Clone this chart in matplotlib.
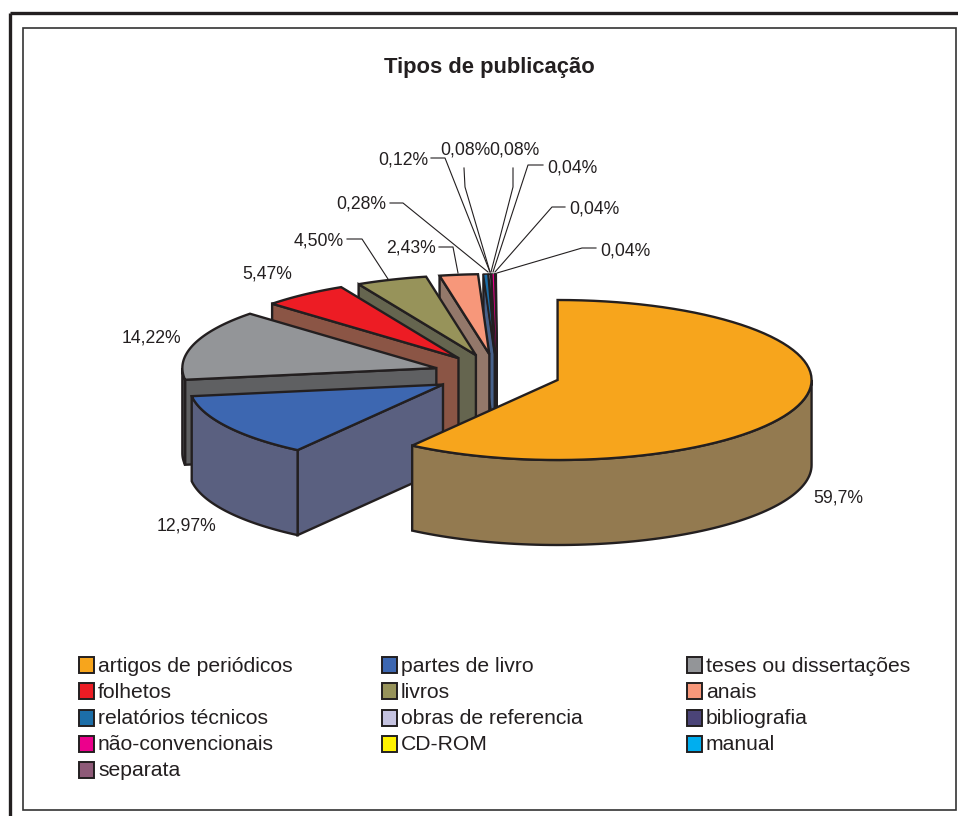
import numpy as np
import matplotlib
matplotlib.use("Agg")
import matplotlib.pyplot as plt
from matplotlib.patches import Polygon, Rectangle

plt.rcParams['font.family'] = ['Liberation Sans', 'DejaVu Sans']

# ---------- данные ----------
categories = ["artigos de periódicos", "partes de livro", "teses ou dissertações",
              "folhetos", "livros", "anais",
              "relatórios técnicos", "obras de referencia", "bibliografia",
              "não-convencionais", "CD-ROM", "manual",
              "separata"]
values = [59.7, 12.97, 14.22, 5.47, 4.50, 2.43, 0.28, 0.12, 0.08, 0.08, 0.04, 0.04, 0.04]
value_labels = ["59,7%", "12,97%", "14,22%", "5,47%", "4,50%", "2,43%", "0,28%",
                "0,12%", "0,08%", "0,08%", "0,04%", "0,04%", "0,04%"]
colors = ["#F7A51C", "#3D67B1", "#939598", "#ED1C24", "#97935A", "#F7977A", "#1C6EA8",
          "#C5C3E0", "#4B4478", "#EC008C", "#FFF200", "#00AEEF", "#8E5A78"]
wall_colors = ["#937A50", "#5A6080", "#5F6062", "#8B5545", "#65654F", "#93786A", "#47618A",
               "#77768A", "#2F2B4A", "#8A0052", "#8F8800", "#006A90", "#5A3A4C"]

# ---------- геометрия ----------
CX, CY = 497, 374
RX, RY = 254, 80
DEPTH = 85
EXPLODE = 0.25
EDGE = "#231F20"
LW = 1.7

# подписи: x, y центра текста и ломаная выноски
label_pos = [(838, 498), (187, 526), (151, 338), (267, 274), (319, 241), (411, 248), (361, 204),
             (403, 160), (465, 150), (514, 150), (572, 168), (594, 209), (625, 251)]
leaders = {
    4: [(347, 239), (362, 239), (388, 279)],
    5: [(439, 247), (453, 247), (458, 273)],
    6: [(390, 203), (403, 203), (488, 272)],
    7: [(431, 158), (445, 158), (490, 272)],
    8: [(464, 168), (465, 187), (490, 272)],
    9: [(513, 168), (513, 187), (491, 272)],
    10: [(543, 165), (528, 165), (493, 272)],
    11: [(565, 207), (552, 207), (495, 272)],
    12: [(596, 248), (582, 248), (497, 273)],
}
legend_cols = [79, 382, 687]
legend_rows = [664.5, 690.5, 717.5, 743.5, 769.5]
# порядок отрисовки: от дальних к ближним, малиновый сектор поверх соседних
draw_order = [12, 11, 10, 8, 7, 9, 6, 5, 4, 3, 2, 1, 0]

fig = plt.figure(figsize=(9.58, 8.16), dpi=100)
ax = fig.add_axes([0, 0, 1, 1])
ax.set_xlim(0, 958)
ax.set_ylim(816, 0)
ax.axis("off")

# рамки
ax.plot([10, 10], [816, 13], color=EDGE, lw=2.4, solid_capstyle="butt")
ax.plot([10, 958], [13, 13], color=EDGE, lw=2.4, solid_capstyle="butt")
ax.add_patch(Rectangle((23, 28), 933, 782, fill=False, ec="#333333", lw=1.2))


def rim(ox, oy, a):
    """Точка на эллипсе; угол a в градусах по часовой от 12 часов"""
    r = np.radians(a)
    return np.column_stack([ox + RX * np.sin(r), oy - RY * np.cos(r)])


def draw_slice(i, a0, a1):
    mid = np.radians((a0 + a1) / 2)
    ox = CX + EXPLODE * RX * np.sin(mid)
    oy = CY - EXPLODE * RY * np.cos(mid)
    apex = np.array([[ox, oy]])
    arc = rim(ox, oy, np.linspace(a0, a1, 80))
    down = np.array([0, DEPTH])

    # боковая стенка у начального радиуса (видна в левой половине)
    if a0 > 180:
        p = np.vstack([rim(ox, oy, np.array([a0])), apex, apex + down, rim(ox, oy, np.array([a0])) + down])
        ax.add_patch(Polygon(p, fc=wall_colors[i], ec=EDGE, lw=LW, joinstyle="miter"))

    # внешняя стенка, только передняя часть эллипса
    f0, f1 = max(a0, 90), min(a1, 270)
    if f1 > f0:
        front = rim(ox, oy, np.linspace(f0, f1, 80))
        p = np.vstack([front, (front + down)[::-1]])
        ax.add_patch(Polygon(p, fc=wall_colors[i], ec=EDGE, lw=LW, joinstyle="miter"))

    # верх сектора; самые узкие секторы тоньше обводка, иначе цвета не видно
    top_lw = LW
    if values[i] < 0.1 and i == 9:
        top_lw = 0
    elif values[i] < 0.5:
        top_lw = 1.1
    ax.add_patch(Polygon(np.vstack([apex, arc]), fc=colors[i], ec=EDGE, lw=top_lw, joinstyle="miter"))


edges = np.concatenate([[0], np.cumsum(values)]) * 3.6
for i in draw_order:
    draw_slice(i, edges[i], edges[i + 1])

# выноски и подписи
for i, pts in leaders.items():
    xs, ys = zip(*pts)
    ax.plot(xs, ys, color=EDGE, lw=0.8)
for (x, y), s in zip(label_pos, value_labels):
    ax.text(x, y, s, ha="center", va="center", fontsize=12.7, color=EDGE)

ax.text(489.5, 67.5, "Tipos de publicação", ha="center", va="center", fontsize=15.8,
        fontweight="bold", color=EDGE)

# легенда
for i, name in enumerate(categories):
    x = legend_cols[i % 3]
    y = legend_rows[i // 3]
    ax.add_patch(Rectangle((x, y - 8), 15, 16.5, fc=colors[i], ec=EDGE, lw=1.4))
    ax.text(x + 19, y + 7, name, ha="left", va="baseline", fontsize=15.2, color=EDGE)

fig.savefig("out.png", dpi=100)
